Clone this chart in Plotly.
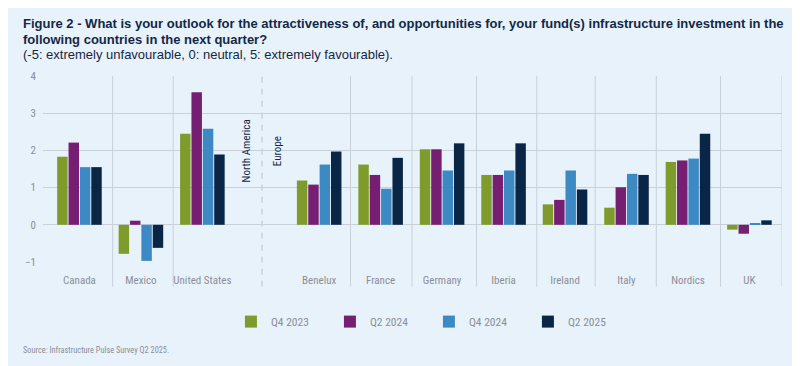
import plotly.graph_objects as go

countries = ["Canada", "Mexico", "United States", "Benelux", "France", "Germany",
             "Iberia", "Ireland", "Italy", "Nordics", "UK"]
series_names = ["Q4 2023", "Q2 2024", "Q4 2024", "Q2 2025"]
q4_2023 = [1.83, -0.78, 2.45, 1.19, 1.62, 2.03, 1.34, 0.55, 0.46, 1.69, -0.13]
q2_2024 = [2.21, 0.11, 3.56, 1.08, 1.34, 2.03, 1.34, 0.67, 1.01, 1.73, -0.24]
q4_2024 = [1.55, -0.97, 2.58, 1.62, 0.97, 1.46, 1.46, 1.46, 1.37, 1.78, 0.04]
q2_2025 = [1.55, -0.62, 1.89, 1.97, 1.80, 2.19, 2.19, 0.95, 1.34, 2.45, 0.12]
y_ticks = [-1, 0, 1, 2, 3, 4]

# layout positions (not data)
xpos = [0, 1, 2, 3.9, 4.9, 5.9, 6.9, 7.9, 8.9, 9.9, 10.9]
separators = [0.54, 1.525, 4.41, 5.41, 6.46, 7.44, 8.39, 9.385, 10.43, 11.43]
region_split = 2.97

colors = ["#7f9b2b", "#761f72", "#3c89c3", "#0a2647"]
BG = "#e8f2fb"
GRID = "#c9d0d8"
NAVY = "#132846"
GREY = "#8a8f96"
NARROW = "Liberation Sans Narrow, Arial Narrow, Roboto Condensed, Liberation Sans, sans-serif"

# page body has an 8px margin; compensate so the picture lands where the reference has it
OFF = 8
PLOT_TOP = 76 - OFF
PLOT_BOTTOM = 262.3 - OFF
PLOT_LEFT = 43 - OFF
PLOT_H = PLOT_BOTTOM - PLOT_TOP
PLOT_W = 782.3 - 43


def py(y_ref):
    return (PLOT_BOTTOM - (y_ref - OFF)) / PLOT_H


def px(x_ref):
    return ((x_ref - OFF) - PLOT_LEFT) / PLOT_W


fig = go.Figure()
for name, vals, col in zip(series_names, [q4_2023, q2_2024, q4_2024, q2_2025], colors):
    fig.add_trace(go.Bar(x=xpos, y=vals, name=name, marker=dict(color=col, line=dict(width=0))))

shapes = []
for s in separators:
    shapes.append(dict(type="line", xref="x", yref="paper", x0=s, x1=s, y0=py(287), y1=1,
                       line=dict(color=GRID, width=1), layer="below"))
shapes.append(dict(type="line", xref="x", yref="paper", x0=region_split, x1=region_split,
                   y0=py(287), y1=1, line=dict(color="#b9c1ca", width=1, dash="6px,6px"),
                   layer="below"))

TF = "Liberation Sans, Arial, sans-serif"
annotations = [
    dict(text="<b>Figure 2 - What is your outlook for the attractiveness of, and opportunities for, your fund(s) infrastructure investment in the</b>",
         xref="paper", yref="paper", x=px(21), y=py(23),
         xanchor="left", yanchor="middle", showarrow=False,
         font=dict(family=TF, size=13, color=NAVY)),
    dict(text="<b>following countries in the next quarter?</b>",
         xref="paper", yref="paper", x=px(21), y=py(39),
         xanchor="left", yanchor="middle", showarrow=False,
         font=dict(family=TF, size=13, color=NAVY)),
    dict(text="(-5: extremely unfavourable, 0: neutral, 5: extremely favourable).",
         xref="paper", yref="paper", x=px(21), y=py(54),
         xanchor="left", yanchor="middle", showarrow=False,
         font=dict(family=TF, size=13, color=NAVY)),
    dict(text="Source: Infrastructure Pulse Survey Q2 2025.",
         xref="paper", yref="paper", x=px(21), y=py(350),
         xanchor="left", yanchor="middle", showarrow=False,
         font=dict(family=NARROW, size=8.3, color=GREY)),
    dict(text="North America", xref="x", yref="y", x=2.72, y=1.99, textangle=-90,
         showarrow=False, font=dict(family=NARROW, size=11, color=NAVY)),
    dict(text="Europe", xref="x", yref="y", x=3.22, y=1.99, textangle=-90,
         showarrow=False, font=dict(family=NARROW, size=11, color=NAVY)),
]

fig.update_layout(
    width=800 - OFF, height=366 - OFF,
    margin=dict(l=PLOT_LEFT, r=800 - 782.3, t=PLOT_TOP, b=366 - 262.3),
    paper_bgcolor=BG, plot_bgcolor=BG,
    barmode="group", bargap=0.26, bargroupgap=0.08,
    showlegend=True,
    legend=dict(orientation="h", x=px(231), xanchor="left",
                y=py(322), yanchor="middle",
                entrywidth=54, entrywidthmode="pixels",
                font=dict(family=NARROW, size=11.5, color=GREY), bgcolor="rgba(0,0,0,0)"),
    xaxis=dict(range=[-0.593, 11.43], tickvals=xpos, ticktext=countries,
               showgrid=False, zeroline=False, showline=False,
               ticks="outside", ticklen=8, tickcolor="rgba(0,0,0,0)",
               tickfont=dict(family=NARROW, size=11, color=GREY)),
    yaxis=dict(range=[-1, 4], tickvals=y_ticks, showgrid=True, gridcolor=GRID, gridwidth=1,
               zeroline=False, showline=False, ticks="", ticklabelstandoff=6,
               tickfont=dict(family=NARROW, size=11, color=GREY)),
    shapes=shapes, annotations=annotations,
)

fig.write_html("out.html")
